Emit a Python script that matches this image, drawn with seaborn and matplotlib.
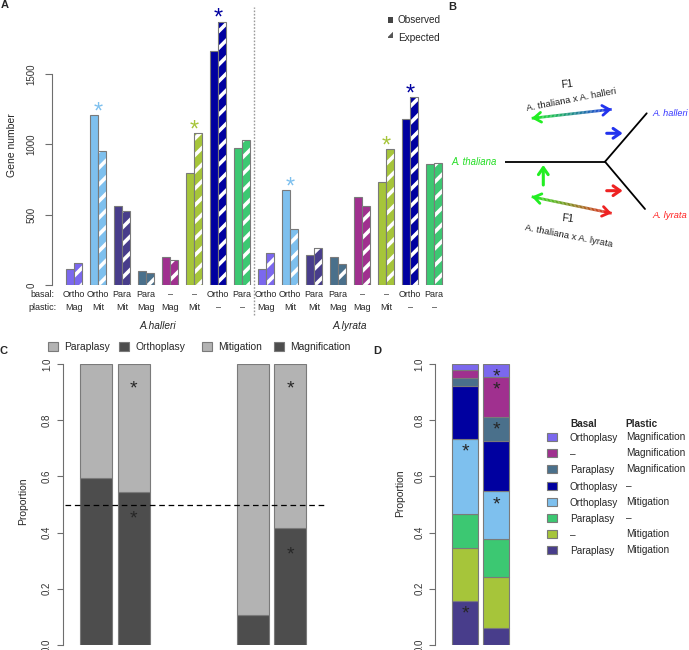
import numpy as np
import pandas as pd
import matplotlib
matplotlib.use("Agg")
import matplotlib.pyplot as plt
import seaborn as sns
from matplotlib.patches import Rectangle
from matplotlib.collections import LineCollection
from matplotlib.colors import to_rgb
from matplotlib.transforms import blended_transform_factory

# ---- panel A: observed / expected gene numbers per class ----
BASAL = ["Ortho", "Ortho", "Para", "Para", "–", "–", "Ortho", "Para"]
PLASTIC = ["Mag", "Mit", "Mit", "Mag", "Mag", "Mit", "–", "–"]
CLASS_COLORS = ["#7B68EE", "#7EC0EE", "#483D8B", "#4A708B",
                "#A0308F", "#A6C53A", "#0000A0", "#3CC872"]
SPECIES = ["A.halleri", "A.lyrata"]
HALLERI_OBS = [115, 1205, 563, 104, 203, 795, 1665, 972]
HALLERI_EXP = [158, 956, 530, 85, 180, 1079, 1871, 1031]
LYRATA_OBS = [114, 677, 215, 203, 627, 733, 1178, 861]
LYRATA_EXP = [232, 402, 263, 149, 563, 965, 1334, 871]
HALLERI_SIG = [1, 5, 6]
LYRATA_SIG = [1, 5, 6]

# ---- panel C: share of the dark category in each bar ----
C_LEGEND = ["Paraplasy", "Orthoplasy", "Mitigation", "Magnification"]
HALLERI_DARK = [0.595, 0.545]
LYRATA_DARK = [0.105, 0.415]
C_SIG = [False, True]

# ---- panel D: stacked proportions (bottom to top) ----
D_BASAL = ["Paraplasy", "–", "Paraplasy", "Orthoplasy",
           "Orthoplasy", "Paraplasy", "–", "Orthoplasy"]
D_PLASTIC = ["Mitigation", "Mitigation", "–", "Mitigation",
             "–", "Magnification", "Magnification", "Magnification"]
D_COLOR_IDX = [2, 5, 7, 1, 6, 3, 4, 0]
D_BAR1 = [0.157, 0.189, 0.119, 0.268, 0.190, 0.028, 0.026, 0.023]
D_BAR2 = [0.059, 0.182, 0.137, 0.169, 0.180, 0.086, 0.140, 0.047]
D_SIG1 = [0, 3]
D_SIG2 = [3, 5, 6, 7]

EDGE = "#7a7a7a"
LIGHT = "#b3b3b3"
DARK = "#4d4d4d"
AXC = "#6e6e6e"
W, H = 689, 650

sns.set_style("white")
plt.rcParams["font.family"] = ["Liberation Sans", "DejaVu Sans"]
plt.rcParams["hatch.linewidth"] = 2.6
plt.rcParams["axes.linewidth"] = 0.8

fig = plt.figure(figsize=(W / 100, H / 100), dpi=100)


def px_axes(left, top, right, bottom, **kw):
    return fig.add_axes([left / W, 1 - bottom / H, (right - left) / W, (bottom - top) / H], **kw)


def style_left_axis(ax, lo, hi, pad, length):
    for s in ["top", "right", "bottom"]:
        ax.spines[s].set_visible(False)
    ax.spines["left"].set_bounds(lo, hi)
    ax.spines["left"].set_color(AXC)
    ax.tick_params(axis="y", left=True, length=length, width=0.8, color=AXC,
                   pad=pad, labelsize=7, labelcolor="#333333")
    ax.tick_params(axis="x", bottom=False, labelbottom=False)
    for lab in ax.get_yticklabels():
        lab.set_rotation(90)
        lab.set_va("center")


# ================= panel A =================
ax_a = px_axes(52, 10.5, 448.4, 285.3)
rows = []
for sp, obs, exp in zip(SPECIES, [HALLERI_OBS, LYRATA_OBS], [HALLERI_EXP, LYRATA_EXP]):
    for i in range(len(BASAL)):
        rows.append({"group": f"{sp}|{i}", "kind": "Observed", "genes": obs[i]})
        rows.append({"group": f"{sp}|{i}", "kind": "Expected", "genes": exp[i]})
df = pd.DataFrame(rows)
order = list(dict.fromkeys(df["group"]))
sns.barplot(data=df, x="group", y="genes", hue="kind", order=order,
            hue_order=["Observed", "Expected"], width=2 / 3, errorbar=None,
            saturation=1, legend=False, ax=ax_a)

colors = CLASS_COLORS * len(SPECIES)
obs_bars = sorted(ax_a.containers[0].patches, key=lambda p: p.get_x())
exp_bars = sorted(ax_a.containers[1].patches, key=lambda p: p.get_x())
for p, c in zip(obs_bars, colors):
    p.set_facecolor(c)
    p.set_edgecolor(EDGE)
    p.set_linewidth(0.8)
for p, c in zip(exp_bars, colors):
    p.set_facecolor(c)
    p.set_edgecolor("white")
    p.set_linewidth(0)
    p.set_hatch("//")
    ax_a.add_patch(Rectangle((p.get_x(), p.get_y()), p.get_width(), p.get_height(),
                             fill=False, edgecolor=EDGE, lw=0.8))

ax_a.set_xlim(-0.917, 15.6)
ax_a.set_ylim(0, 1950)
ax_a.set_yticks([0, 500, 1000, 1500])
ax_a.set_xlabel("")
ax_a.set_ylabel("Gene number", fontsize=7.5, va="center")
ax_a.yaxis.set_label_coords(-0.101, 0.51)
style_left_axis(ax_a, 0, 1500, 6, 5)

for s, (sig, obs, exp) in enumerate(zip([HALLERI_SIG, LYRATA_SIG],
                                        [HALLERI_OBS, LYRATA_OBS],
                                        [HALLERI_EXP, LYRATA_EXP])):
    for i in sig:
        ax_a.text(s * len(BASAL) + i, max(obs[i], exp[i]) + 20, "*",
                  color=CLASS_COLORS[i], ha="center", va="center",
                  fontsize=17, clip_on=False)

ax_a.axvline(len(BASAL) - 0.5, ymin=-0.108, ymax=1.014, color="#9a9a9a",
             lw=1, ls=(0, (1.2, 1.2)), clip_on=False)

tr = blended_transform_factory(ax_a.transData, ax_a.transAxes)
ax_a.text(-1.33, -0.035, "basal:", transform=tr, ha="center", va="center", fontsize=6.5)
ax_a.text(-1.33, -0.080, "plastic:", transform=tr, ha="center", va="center", fontsize=6.5)
for s, sp in enumerate(SPECIES):
    for i in range(len(BASAL)):
        x = s * len(BASAL) + i
        ax_a.text(x, -0.035, BASAL[i], transform=tr, ha="center", va="center", fontsize=6.5)
        ax_a.text(x, -0.080, PLASTIC[i], transform=tr, ha="center", va="center", fontsize=6.5)
    ax_a.text(s * len(BASAL) + 3.5, -0.148, sp, transform=tr, ha="center",
              va="center", fontsize=7.3, style="italic")

# ================= panel C =================
ax_c = px_axes(62.7, 364, 330, 645)
c_pos = [0, 1.17, 4.89, 6.06]
dark = HALLERI_DARK + LYRATA_DARK
ax_c.bar(c_pos, dark, width=1, color=DARK, edgecolor=EDGE, lw=0.8)
ax_c.bar(c_pos, [1 - d for d in dark], bottom=dark, width=1, color=LIGHT,
         edgecolor=EDGE, lw=0.8)
ax_c.hlines(0.5, -0.98, 7.14, colors="black", linestyles=(0, (4.5, 3)), lw=0.9)
for x, d, sig in zip(c_pos, dark, C_SIG * 2):
    if sig:
        ax_c.text(x, 1 - 0.09, "*", ha="center", va="center", fontsize=14)
        ax_c.text(x, d - 0.095, "*", ha="center", va="center", fontsize=14)
ax_c.set_xlim(-1.056, 7.297)
ax_c.set_ylim(0, 1)
ax_c.set_yticks(np.arange(0, 1.01, 0.2))
ax_c.set_yticklabels([f"{v:.1f}" for v in np.arange(0, 1.01, 0.2)])
ax_c.set_ylabel("Proportion", fontsize=7.5, va="center")
ax_c.yaxis.set_label_coords(-0.1485, 0.51)
style_left_axis(ax_c, 0, 1, 3.5, 4.3)

# ================= panel D =================
ax_d = px_axes(435, 364, 515, 645)
d_pos = [0, 1.19]
for x, fracs, sig in zip(d_pos, [D_BAR1, D_BAR2], [D_SIG1, D_SIG2]):
    tops = np.cumsum(fracs)
    bottoms = tops - np.array(fracs)
    ax_d.bar([x] * len(fracs), fracs, bottom=bottoms, width=1,
             color=[CLASS_COLORS[k] for k in D_COLOR_IDX], edgecolor=EDGE, lw=0.8)
    for k in sig:
        ax_d.text(x, tops[k] - 0.047, "*", ha="center", va="center", fontsize=14)
ax_d.set_xlim(-1.165, 1.912)
ax_d.set_ylim(0, 1)
ax_d.set_yticks(np.arange(0, 1.01, 0.2))
ax_d.set_yticklabels([f"{v:.1f}" for v in np.arange(0, 1.01, 0.2)])
ax_d.set_ylabel("Proportion", fontsize=7.5, va="center")
ax_d.yaxis.set_label_coords(-0.4375, 0.541)
style_left_axis(ax_d, 0, 1, 3.5, 4.3)

# ================= overlay: legends, diagram B, panel letters =================
ov = fig.add_axes([0, 0, 1, 1], zorder=10)
ov.set_xlim(0, W)
ov.set_ylim(H, 0)
ov.axis("off")

for lab, x, y in [("A", 4.5, 5.5), ("B", 452, 7), ("C", 3.5, 351), ("D", 377.5, 351)]:
    ov.text(x, y, lab, ha="center", va="center", fontsize=8, fontweight="bold")

# legend A
ov.add_patch(Rectangle((388, 17.3), 5.4, 5.4, facecolor="#444444", edgecolor="none"))
ov.add_patch(Rectangle((388, 32.3), 5.4, 5.4, facecolor="#555555", edgecolor="white",
                       lw=0, hatch="///"))
ov.text(398, 20, "Observed", ha="left", va="center", fontsize=7.2)
ov.text(398, 37.7, "Expected", ha="left", va="center", fontsize=7.2)

# legend C
for lab, x, c in zip(C_LEGEND, [48.3, 119.3, 202.3, 274.3], [LIGHT, DARK, LIGHT, DARK]):
    ov.add_patch(Rectangle((x, 341.7), 10, 9, facecolor=c, edgecolor=EDGE, lw=0.8))
    ov.text(x + 16, 347.5, lab, ha="left", va="center", fontsize=7.4)

# legend D
ov.text(570, 424, "Basal", ha="left", va="center", fontsize=7.2, fontweight="bold")
ov.text(625.7, 424, "Plastic", ha="left", va="center", fontsize=7.2, fontweight="bold")
row_y = [550, 533.7, 518, 502, 486, 469.3, 453.3, 437.3]
for k, y in enumerate(row_y):
    ov.add_patch(Rectangle((547.3, y - 4), 10, 8, facecolor=CLASS_COLORS[D_COLOR_IDX[k]],
                           edgecolor=EDGE, lw=0.8))
    ov.text(570, y + 1, D_BASAL[k], ha="left", va="center", fontsize=7.2)
    ov.text(625.7, y, D_PLASTIC[k], ha="left", va="center", fontsize=7.2)

# diagram B
ov.plot([505, 605], [161.7, 161.7], color="black", lw=1.3, solid_capstyle="butt")
ov.plot([605, 646.7], [161.7, 113.3], color="black", lw=1.3)
ov.plot([605, 645], [161.7, 209], color="black", lw=1.3)

ov.text(497, 162.3, "A. thaliana", color="#22dd22", ha="right", va="center",
        fontsize=6.9, style="italic")
ov.text(688, 113, "A. halleri", color="#3333ff", ha="right", va="center",
        fontsize=6.6, style="italic")
ov.text(652, 215, "A. lyrata", color="#ff2222", ha="left", va="center",
        fontsize=6.8, style="italic")
ov.text(567.3, 84, "F1", ha="center", va="center", fontsize=7.5, rotation=6,
        color="#222222")
ov.text(571.7, 100, "A. thaliana x A. halleri", ha="center", va="center",
        fontsize=6.8, rotation=11, color="#222222")
ov.text(567.3, 218.3, "F1", ha="center", va="center", fontsize=7.5, rotation=-6,
        color="#222222")
ov.text(569, 236, "A. thaliana x A. lyrata", ha="center", va="center",
        fontsize=6.8, rotation=-11, color="#222222")


def head(tip, back, c, lw=2.0):
    tip, back = np.asarray(tip, float), np.asarray(back, float)
    d = (back - tip) / np.linalg.norm(back - tip)
    ov.annotate("", xy=tip, xytext=tip + d * 7,
                arrowprops=dict(arrowstyle="->,head_length=0.5,head_width=0.35",
                                color=c, lw=lw, shrinkA=0, shrinkB=0))


def gradient_arrow(p0, p1, c0, c1, n=60, lw=2.0):
    p0, p1 = np.asarray(p0, float), np.asarray(p1, float)
    t = np.linspace(0, 1, n + 1)
    pts = p0 + (p1 - p0) * t[:, None]
    segs = np.stack([pts[:-1], pts[1:]], axis=1)
    mids = (t[:-1] + t[1:]) / 2
    cols = [tuple(np.array(to_rgb(c0)) * (1 - m) + np.array(to_rgb(c1)) * m) for m in mids]
    ov.add_collection(LineCollection(segs, colors=cols, linewidths=lw, capstyle="butt"))
    head(p0, p1, c0, lw)
    head(p1, p0, c1, lw)


gradient_arrow((531.7, 118.3), (611.7, 109.3), "#22ee22", "#2233ee")
gradient_arrow((531.7, 196.7), (611.7, 213.3), "#22ee22", "#ee2222")
for start, end, c in [((606.7, 133.3), (622.7, 133.3), "#2233ee"),
                      ((606.7, 190.7), (622.7, 190.7), "#ee2222"),
                      ((543.3, 185), (543.3, 165), "#22ee22")]:
    ov.annotate("", xy=end, xytext=start,
                arrowprops=dict(arrowstyle="->,head_length=0.5,head_width=0.35",
                                color=c, lw=2.2, shrinkA=0, shrinkB=0))

fig.savefig("out.png", dpi=100)
